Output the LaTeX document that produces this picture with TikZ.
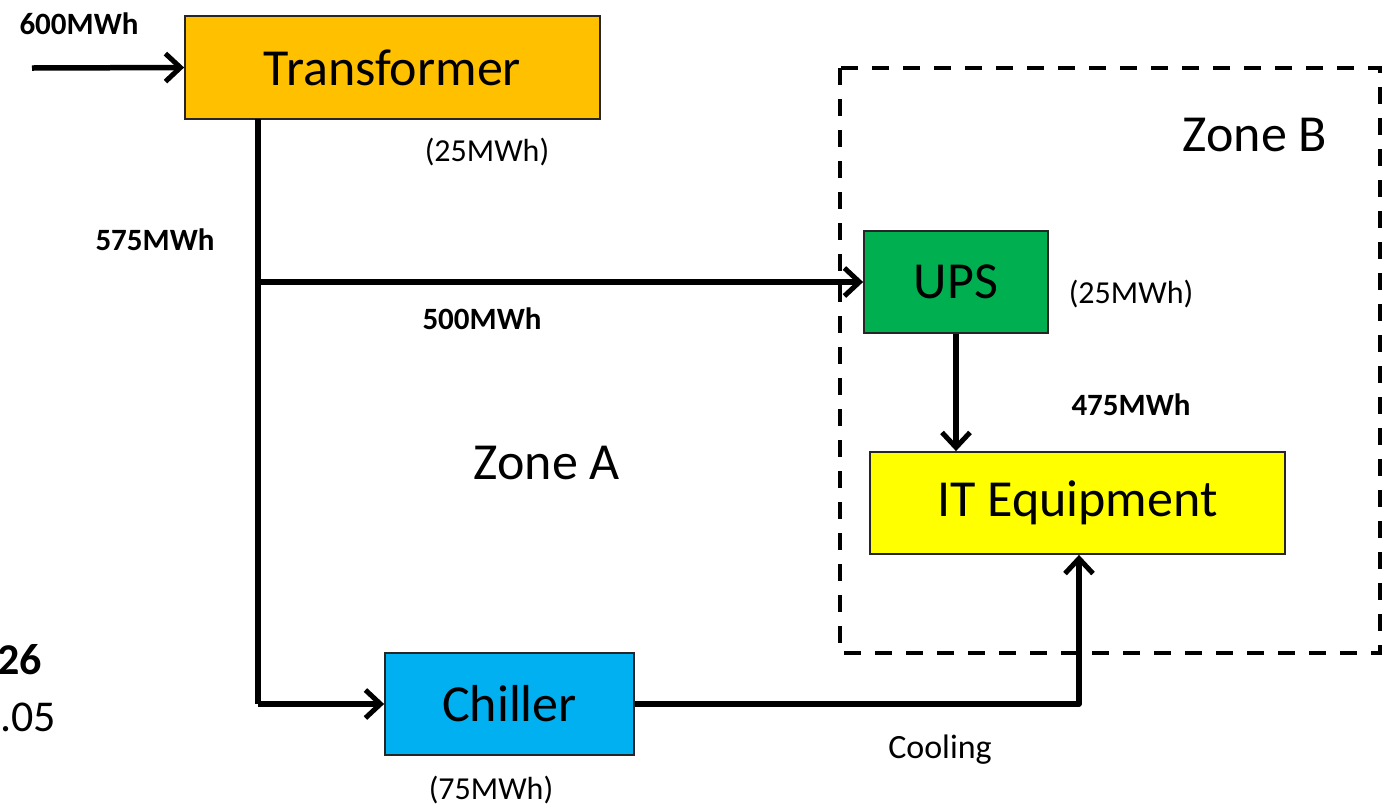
\documentclass[tikz,border=0pt]{standalone}
\usepackage{fontspec}
\setmainfont{Carlito}
\usetikzlibrary{arrows.meta}
\begin{document}
\begin{tikzpicture}[x=1pt,y=-1pt,
  blk/.style={draw=black!85,line width=1.8pt,inner sep=0pt,font=\fontsize{52}{60}\selectfont},
  flow/.style={line width=5.5pt,-{Straight Barb[length=15pt,width=28pt,line width=5pt]}},
  flowline/.style={line width=5.5pt},
  lblb/.style={font=\fontsize{31}{36}\selectfont\bfseries},
  lblr/.style={font=\fontsize{32}{38}\selectfont},
  big/.style={font=\fontsize{52}{60}\selectfont}]
\useasboundingbox (0,0) rectangle (1387,807);
\draw[line width=4pt,dash pattern=on 17pt off 14pt] (840,68) rectangle (1380,653);
\node[blk,fill={rgb,255:red,255;green,192;blue,0},minimum width=415pt,minimum height=103pt] (tr) at (392.5,67.5) {Transformer};
\node[blk,fill={rgb,255:red,0;green,176;blue,80},minimum width=184pt,minimum height=102pt] (ups) at (956,282) {UPS};
\node[blk,fill={rgb,255:red,255;green,255;blue,0},minimum width=415pt,minimum height=102pt] (it) at (1077.5,503) {IT Equipment};
\node[blk,fill={rgb,255:red,0;green,176;blue,240},minimum width=249pt,minimum height=102pt] (ch) at (509.5,704) {Chiller};
\coordinate (in) at (32,68);
\coordinate (down) at (258,119);
\coordinate (br) at (258,282);
\coordinate (corner) at (258,704);
\coordinate (cc) at (1079,704);
\draw[flow] (in) -- (tr.west);
\draw[flowline] (down) -- (corner);
\draw[flow] (corner) -- (ch.west);
\draw[flow] (br) -- (ups.west);
\draw[flow] (ups.south) -- (ups.south |- it.north);
\draw[flow,line join=round] (ch.east) -- (cc) -- (cc |- it.south);
\node[lblb] (l600) at (79,24) {600MWh};
\node[lblb] (l575) at (155,240) {575MWh};
\node[lblb] (l500) at (482,319) {500MWh};
\node[lblb] (l475) at (1131,405) {475MWh};
\node[lblr] (l25a) at (487,152) {(25MWh)};
\node[lblr] (l25b) at (1131,294) {(25MWh)};
\node[lblr] (l75) at (491,790) {(75MWh)};
\node[lblr,font=\fontsize{34}{40}\selectfont] (cool) at (940,750) {Cooling};
\node[big] (za) at (547,463) {Zone A};
\node[big] (zb) at (1255,135) {Zone B};
\node[font=\fontsize{44}{50}\selectfont\bfseries,anchor=east,inner sep=0pt] (n26) at (42,660) {26};
\node[font=\fontsize{44}{50}\selectfont,anchor=east,inner sep=0pt] (n05) at (56,717) {.05};
\end{tikzpicture}
\end{document}
